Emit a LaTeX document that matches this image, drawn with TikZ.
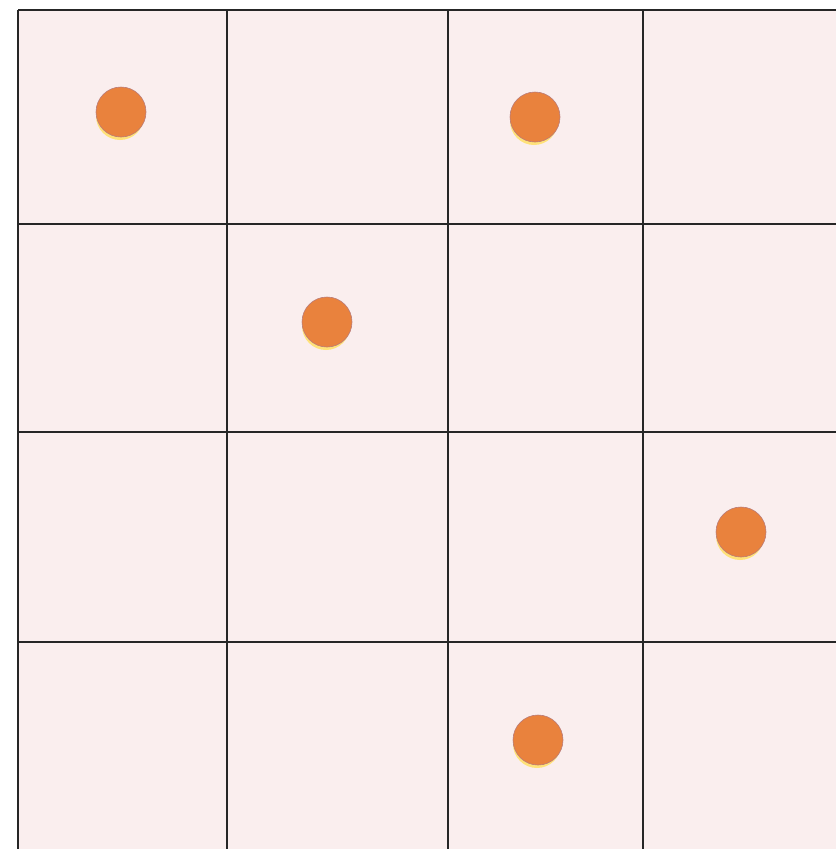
\documentclass[tikz,border=0pt]{standalone}
\begin{document}
\begin{tikzpicture}[x=1pt,y=-1pt,
  gridline/.style={line width=2pt,black!85},
  dot/.style={circle,inner sep=0pt,minimum size=50pt,fill=dotorange,draw=dotpurple,line width=0.6pt},
  halo/.style={circle,inner sep=0pt,minimum size=48pt,fill=haloyellow}]
\definecolor{paper}{HTML}{FAEEEE}
\definecolor{dotorange}{HTML}{E9823D}
\definecolor{dotpurple}{HTML}{B97A78}
\definecolor{haloyellow}{HTML}{FFE27A}
\useasboundingbox (0,0) rectangle (836,849);
\fill[white] (0,0) rectangle (836,849);
\fill[paper] (18,10) rectangle (836,849);
\foreach \x in {18,227,448,643}
  \draw[gridline] (\x,10) -- (\x,849);
\foreach \y in {10,224,432,642}
  \draw[gridline] (18,\y) -- (836,\y);
\foreach \n/\x/\y in {a/121/112,b/535/117,c/327/322,d/741/532,e/538/740}{
  \node[halo] (h\n) at (\x-1,\y+4) {};
  \node[dot] (\n) at (\x,\y) {};
}
\end{tikzpicture}
\end{document}
